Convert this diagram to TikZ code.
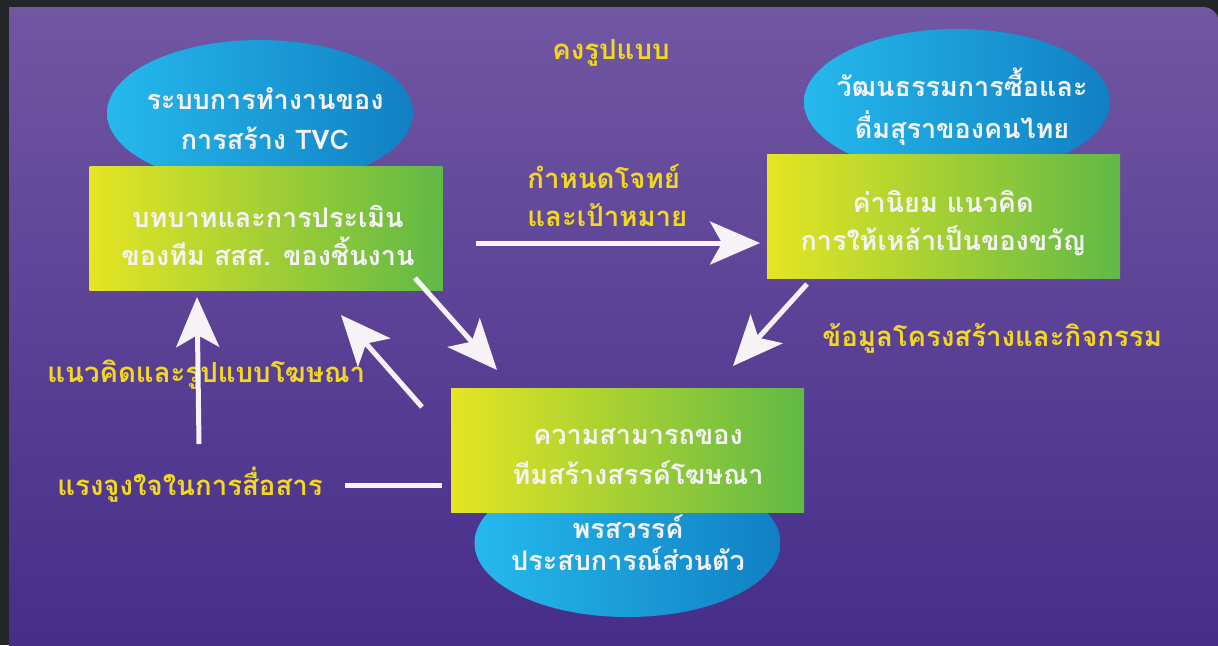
\documentclass[tikz,border=0pt]{standalone}
\usepackage{fontspec}
\newfontfamily\thaifont[Script=Thai]{Loma}
\usetikzlibrary{shapes.geometric,arrows.meta}
\definecolor{darkbg}{HTML}{232628}
\definecolor{bgtop}{HTML}{7156A2}
\definecolor{bgbot}{HTML}{422A87}
\definecolor{elleft}{HTML}{25B9EC}
\definecolor{elright}{HTML}{1180C3}
\definecolor{rcleft}{HTML}{E5E523}
\definecolor{rcright}{HTML}{60B946}
\definecolor{txtwhite}{HTML}{F5F2F5}
\definecolor{lblyellow}{HTML}{F2D820}
\definecolor{arrwhite}{HTML}{F6F2F6}
\tikzset{
  blob/.style={ellipse, inner sep=0pt, left color=elleft, right color=elright, minimum width=153pt, minimum height=73pt},
  gbox/.style={rectangle, inner sep=0pt, left color=rcleft, right color=rcright, minimum width=176.5pt, minimum height=62pt},
  intext/.style={font=\thaifont\bfseries\fontsize{13.5}{19}\selectfont, text=txtwhite, align=center, inner sep=0pt},
  lbl/.style={font=\thaifont\bfseries\fontsize{13.8}{19}\selectfont, text=lblyellow, align=left, inner sep=0pt},
  arr/.style={draw=arrwhite, line width=2.5pt, -{Stealth[length=25pt,width=21.5pt,inset=6pt]}},
  plainline/.style={draw=arrwhite, line width=2.5pt}
}
\begin{document}
\begin{tikzpicture}[x=0.5pt,y=-0.5pt]
\useasboundingbox (0,0) rectangle (1218,645);
\fill[darkbg] (0,0) rectangle (1218,645);
\shade[top color=bgtop, bottom color=bgbot] (9,700) -- (9,7) [rounded corners=8pt] -- (1219,7) -- (1219,700) -- cycle;

% ellipses
\node[blob] (e1) at (260,113) {};
\node[blob] (e2) at (957,102) {};
\node[blob, minimum height=74pt] (e3) at (627.5,543) {};
% boxes
\node[gbox] (r1) at (266,228) {};
\node[gbox] (r2) at (943.5,216) {};
\node[gbox] (r3) at (627.5,450) {};

% texts
\node[intext, font=\thaifont\bfseries\fontsize{13.5}{20}\selectfont] (t1) at (265,119) {ระบบการทำงานของ\\การสร้าง TVC};
\node[intext, font=\thaifont\bfseries\fontsize{13.5}{21}\selectfont] (t2) at (962,107) {วัฒนธรรมการซื้อและ\\ดื่มสุราของคนไทย};
\node[intext] (t3) at (268,235) {บทบาทและการประเมิน\\ของทีม สสส. ของชิ้นงาน};
\node[intext] (t4) at (943,223) {ค่านิยม แนวคิด\\การให้เหล้าเป็นของขวัญ};
\node[intext, font=\thaifont\bfseries\fontsize{13.5}{20}\selectfont] (t5) at (638,457) {ความสามารถของ\\ทีมสร้างสรรค์โฆษณา};
\node[intext, font=\thaifont\bfseries\fontsize{13.5}{16}\selectfont] (t6) at (628,543) {พรสวรรค์\\ประสบการณ์ส่วนตัว};

% labels
\node[lbl] (l1) at (611,53) {คงรูปแบบ};
\node[lbl, anchor=west] (l2) at (527,195) {กำหนดโจทย์\\และเป้าหมาย};
\node[lbl, anchor=west] (l3) at (822,338) {ข้อมูลโครงสร้างและกิจกรรม};
\node[lbl, anchor=west] (l4) at (47,375) {แนวคิดและรูปแบบโฆษณา};
\node[lbl, anchor=west] (l5) at (57,485) {แรงจูงใจในการสื่อสาร};

% connector end points
\coordinate (a1s) at (476,243);
\coordinate (a1e) at (760,243);
\coordinate (a2s) at (415,278);
\coordinate (a2e) at (497,370);
\coordinate (a3s) at (422,407);
\coordinate (a3e) at (341,315);
\coordinate (a4s) at (807,284);
\coordinate (a4e) at (733,366);
\coordinate (a5s) at (199,444);
\coordinate (a5e) at (197,297);
\coordinate (a6s) at (345,485);
\coordinate (a6e) at (442,485);

\draw[arr] (a1s) -- (a1e);
\draw[arr] (a2s) -- (a2e);
\draw[arr] (a3s) -- (a3e);
\draw[arr] (a4s) -- (a4e);
\draw[arr] (a5s) -- (a5e);
\draw[plainline] (a6s) -- (a6e);
\end{tikzpicture}
\end{document}
